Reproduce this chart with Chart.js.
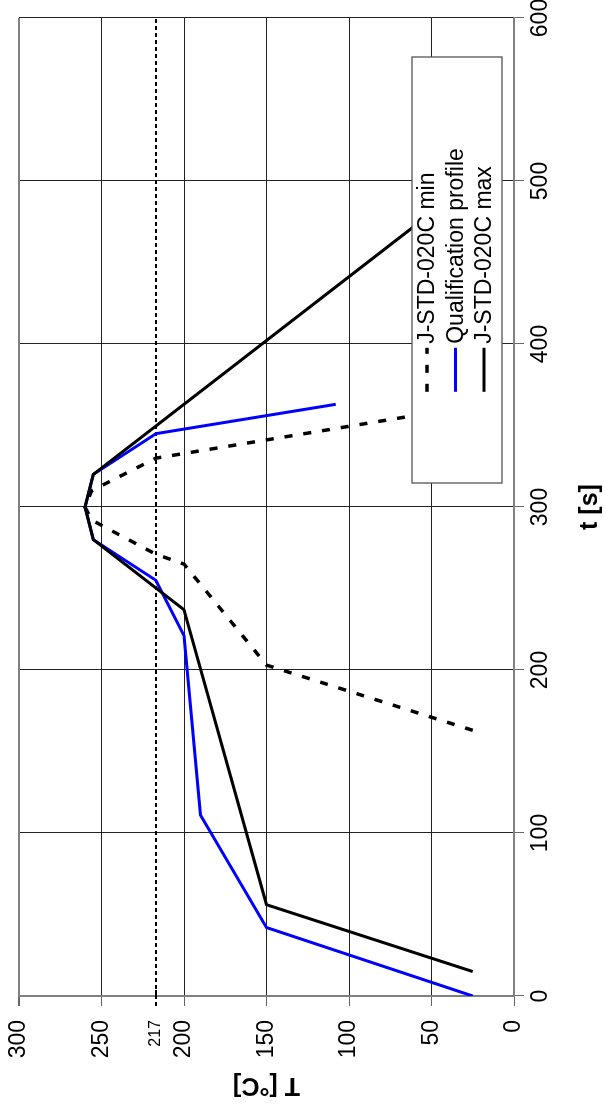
<!DOCTYPE html>
<html lang="en">
<head>
<meta charset="UTF-8">
<title>Reflow profile</title>
<script src="https://cdn.jsdelivr.net/npm/chart.js"></script>
<style>
  html, body { margin: 0; padding: 0; background: #fff; overflow: hidden; }
  /* chart is drawn landscape and turned a quarter to the left */
  #wrap { position: absolute; left: 0; top: 0; width: 1108px; height: 606px;
          transform-origin: 0 0; transform: translateY(1108px) rotate(-90deg); }
</style>
</head>
<body>
<div id="wrap"><canvas id="myChart" width="1108" height="606"></canvas></div>
<script>
// time [s] / temperature [°C]
var minTime  = [163, 203, 265, 271, 292, 300, 310, 330, 362];
var minTemp  = [25, 150, 200, 217, 256, 260, 256, 217, 25];
var qualTime = [0, 42, 111, 221, 255, 280, 300, 320, 345, 363];
var qualTemp = [25, 150, 190, 200, 217, 255, 260, 255, 217, 108];
var maxTime  = [15, 56, 237, 280, 300, 320, 500];
var maxTemp  = [25, 150, 200, 255, 260, 255, 25];
var liquidus = 217;
var timeTicks = [0, 100, 200, 300, 400, 500, 600];
var tempTicks = [0, 50, 100, 150, 200, 217, 250, 300];

function pts(xs, ys) { return xs.map(function (x, i) { return { x: x, y: ys[i] }; }); }

Chart.defaults.font.family = "'Liberation Sans', Arial, sans-serif";
Chart.defaults.color = '#000';

// extra dashed tick at 217 outside the plot
var liquidusTick = {
  id: 'liquidusTick',
  afterDraw: function (chart) {
    var c = chart.ctx, a = chart.chartArea, y = chart.scales.y.getPixelForValue(liquidus);
    c.save();
    c.strokeStyle = '#000'; c.lineWidth = 2; c.setLineDash([4, 3]);
    c.beginPath(); c.moveTo(a.left - 10, y); c.lineTo(a.left + 6, y); c.stroke();
    c.restore();
  }
};

// legend box drawn inside the plot, white filled
var boxLegend = {
  id: 'boxLegend',
  afterDraw: function (chart) {
    var c = chart.ctx, a = chart.chartArea;
    var w = 426, h = 90, right = a.right - 39, bottom = a.bottom - 12;
    var left = right - w, top = bottom - h;
    c.save();
    c.fillStyle = '#fff'; c.fillRect(left, top, w, h);
    c.strokeStyle = '#555'; c.lineWidth = 1.3; c.strokeRect(left, top, w, h);
    c.font = "23px 'Liberation Sans', Arial, sans-serif";
    c.textBaseline = 'middle'; c.textAlign = 'left';
    var items = chart.data.datasets.slice(0, 3);
    var textW = Math.max.apply(null, items.map(function (d) { return c.measureText(d.label).width; }));
    var sym = 44, gap = 4;
    var x0 = left + (w - (sym + gap + textW)) / 2;
    items.forEach(function (d, i) {
      var y = top + 15 + i * 28.5;
      c.strokeStyle = d.borderColor; c.lineWidth = d.borderWidth;
      c.setLineDash(d.borderDash || []);
      c.beginPath(); c.moveTo(x0, y); c.lineTo(x0 + sym, y); c.stroke();
      c.setLineDash([]);
      c.fillStyle = '#000';
      c.fillText(d.label, x0 + sym + gap, y + 1);
    });
    c.restore();
  }
};

var ctx = document.getElementById('myChart').getContext('2d');
var myChart = new Chart(ctx, {
  type: 'line',
  data: {
    datasets: [{
      label: 'J-STD-020C min',
      data: pts(minTime, minTemp),
      borderColor: '#000', borderWidth: 3.5, borderDash: [8, 11],
      pointRadius: 0, tension: 0, order: 3
    }, {
      label: 'Qualification profile',
      data: pts(qualTime, qualTemp),
      borderColor: '#0000ff', borderWidth: 3,
      pointRadius: 0, tension: 0, order: 2
    }, {
      label: 'J-STD-020C max',
      data: pts(maxTime, maxTemp),
      borderColor: '#000', borderWidth: 3,
      pointRadius: 0, tension: 0, order: 1
    }, {
      label: 'liquidus',
      data: [{ x: timeTicks[0], y: liquidus }, { x: timeTicks[timeTicks.length - 1], y: liquidus }],
      borderColor: '#000', borderWidth: 2, borderDash: [4, 3],
      pointRadius: 0, tension: 0, order: 4
    }]
  },
  options: {
    responsive: false,
    animation: false,
    devicePixelRatio: 1,
    layout: { padding: { left: 0, right: 18, top: 19, bottom: 0 } },
    plugins: { legend: { display: false }, tooltip: { enabled: false } },
    scales: {
      x: {
        type: 'linear', min: 0, max: 600,
        afterBuildTicks: function (s) { s.ticks = timeTicks.map(function (v) { return { value: v }; }); },
        afterFit: function (s) { s.height = 92; s.paddingLeft = 0; s.paddingRight = 0; },
        ticks: { font: { size: 23 }, padding: 3, maxRotation: 0, autoSkip: false },
        grid: { color: '#222', lineWidth: 1, tickLength: 10, tickColor: '#666' },
        border: { color: '#808080', width: 2 },
        title: { display: true, text: 't [s]', font: { size: 25, weight: 'bold' }, padding: { top: 0, bottom: 1 } }
      },
      y: {
        type: 'linear', min: 0, max: 300,
        afterBuildTicks: function (s) { s.ticks = tempTicks.map(function (v) { return { value: v }; }); },
        afterFit: function (s) { s.width = 112; s.paddingTop = 0; s.paddingBottom = 0; },
        ticks: {
          font: function (c) { return { size: c.tick && c.tick.value === liquidus ? 16 : 23 }; },
          padding: 14, autoSkip: false
        },
        grid: {
          color: function (c) {
            if (c.tick.value === liquidus) return 'rgba(0,0,0,0)';
            return c.tick.value === 300 ? '#808080' : '#222';
          },
          lineWidth: function (c) { return c.tick.value === 300 ? 2 : 1; },
          tickLength: 10,
          tickColor: function (c) { return c.tick.value === liquidus ? 'rgba(0,0,0,0)' : '#666'; }
        },
        border: { color: '#808080', width: 2 },
        title: { display: true, text: 'T [°C]', font: { size: 25, weight: 'bold' }, padding: { top: 8, bottom: 0 } }
      }
    }
  },
  plugins: [liquidusTick, boxLegend]
});
</script>
</body>
</html>
